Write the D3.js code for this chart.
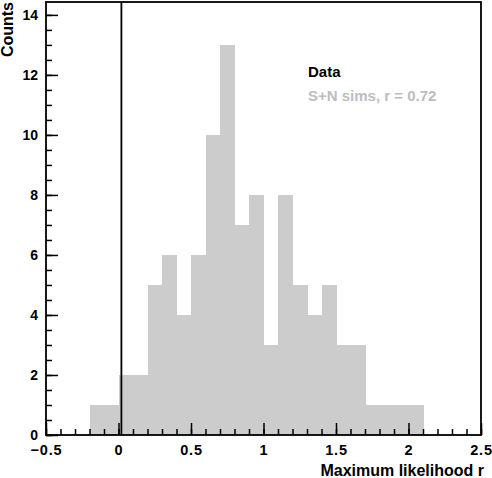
<!DOCTYPE html>
<html>
<head>
<meta charset="utf-8">
<script src="https://cdn.jsdelivr.net/npm/d3@7"></script>
<style>
  body { margin: 0; background: #fff; }
  text { font-family: "Liberation Sans", Arial, sans-serif; font-weight: bold; }
</style>
</head>
<body>
<script>
const width = 492, height = 478;

// histogram: 0.1 wide bins starting at -0.2
const binStarts = [-0.2, -0.1, 0.0, 0.1, 0.2, 0.3, 0.4, 0.5, 0.6, 0.7, 0.8, 0.9,
                   1.0, 1.1, 1.2, 1.3, 1.4, 1.5, 1.6, 1.7, 1.8, 1.9, 2.0];
const counts = [1, 1, 2, 2, 5, 6, 4, 6, 10, 13, 7, 8,
                3, 8, 5, 4, 5, 3, 3, 1, 1, 1, 1];
const binWidth = 0.1;
const dataR = 0.02;

const xTicks = [-0.5, 0, 0.5, 1, 1.5, 2, 2.5];
const yTicks = [0, 2, 4, 6, 8, 10, 12, 14];
const legendLabels = ["Data", "S+N sims, r = 0.72"];

const plotL = 46, plotR = 481, plotT = 2, plotB = 435;

const x = d3.scaleLinear().domain([-0.5, 2.5]).range([plotL, plotR]);
const y = d3.scaleLinear().domain([0, 14.43]).range([plotB, plotT]);

const svg = d3.select("body").append("svg")
  .attr("width", width)
  .attr("height", height);

// bars
svg.append("g")
  .selectAll("rect")
  .data(counts)
  .enter().append("rect")
  .attr("x", (d, i) => x(binStarts[i]))
  .attr("width", (d, i) => x(binStarts[i] + binWidth) - x(binStarts[i]) + 0.5)
  .attr("y", d => y(d))
  .attr("height", d => y(0) - y(d))
  .attr("fill", "#cccccc")
  .attr("shape-rendering", "crispEdges");

// minor ticks
const xMinor = d3.range(-0.5, 2.51, 0.1);
const yMinor = d3.range(0, 14.01, 0.5);

svg.append("g")
  .attr("transform", `translate(0,${plotB})`)
  .call(d3.axisBottom(x).tickValues(xMinor).tickSize(-6).tickFormat(""))
  .call(g => g.select(".domain").remove())
  .selectAll("line").attr("stroke-width", 1.5);

svg.append("g")
  .attr("transform", `translate(${plotL},0)`)
  .call(d3.axisLeft(y).tickValues(yMinor).tickSize(-6).tickFormat(""))
  .call(g => g.select(".domain").remove())
  .selectAll("line").attr("stroke-width", 1.5);

// major ticks + labels
const xAxis = svg.append("g")
  .attr("transform", `translate(0,${plotB})`)
  .call(d3.axisBottom(x).tickValues(xTicks).tickSize(-12).tickPadding(10)
    .tickFormat(d => d3.format("")(d)))
  .call(g => g.select(".domain").remove());
xAxis.selectAll("line").attr("stroke-width", 1.5);
xAxis.selectAll("text").attr("font-size", 14.5).attr("fill", "#000")
  .attr("letter-spacing", 0.8)
  .style("font-family", "Liberation Sans, Arial, sans-serif");

const yAxis = svg.append("g")
  .attr("transform", `translate(${plotL},0)`)
  .call(d3.axisLeft(y).tickValues(yTicks).tickSize(-12).tickPadding(8))
  .call(g => g.select(".domain").remove());
yAxis.selectAll("line").attr("stroke-width", 1.5);
yAxis.selectAll("text").attr("font-size", 14).attr("fill", "#000")
  .style("font-family", "Liberation Sans, Arial, sans-serif");

// data line
svg.append("line")
  .attr("x1", x(dataR)).attr("x2", x(dataR))
  .attr("y1", y(0)).attr("y2", plotT)
  .attr("stroke", "#000")
  .attr("stroke-width", 1.8);

// frame
svg.append("rect")
  .attr("x", plotL).attr("y", plotT)
  .attr("width", plotR - plotL).attr("height", plotB - plotT)
  .attr("fill", "none")
  .attr("stroke", "#000")
  .attr("stroke-width", 1.8);

// legend
svg.append("text")
  .attr("x", 308).attr("y", 77)
  .attr("font-size", 15)
  .attr("fill", "#000")
  .text(legendLabels[0]);

svg.append("text")
  .attr("x", 308).attr("y", 101)
  .attr("font-size", 15)
  .attr("fill", "#bdbdbd")
  .text(legendLabels[1]);

// axis titles
svg.append("text")
  .attr("transform", "translate(12.5,2) rotate(-90)")
  .attr("text-anchor", "end")
  .attr("font-size", 16)
  .text("Counts");

svg.append("text")
  .attr("x", 484).attr("y", 476)
  .attr("text-anchor", "end")
  .attr("font-size", 16)
  .text("Maximum likelihood r");
</script>
</body>
</html>
